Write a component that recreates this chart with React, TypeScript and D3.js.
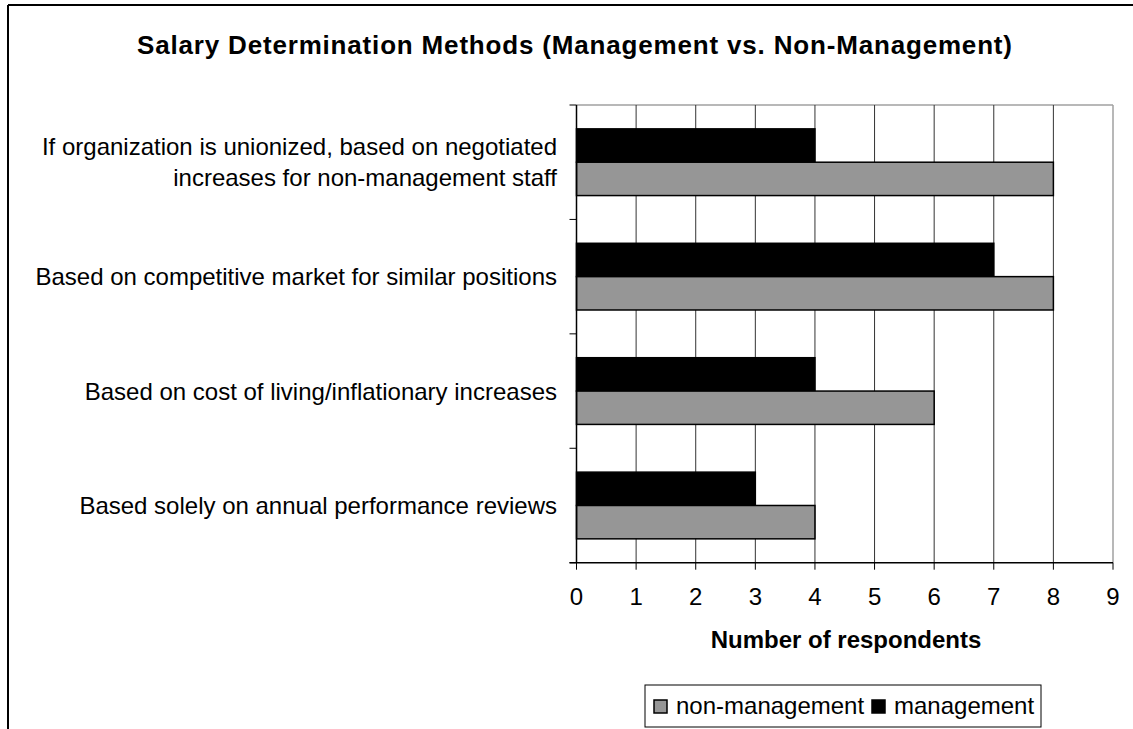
import * as d3 from 'd3'

const categories = [
  ['If organization is unionized, based on negotiated', 'increases for non-management staff'],
  ['Based on competitive market for similar positions'],
  ['Based on cost of living/inflationary increases'],
  ['Based solely on annual performance reviews'],
]
const seriesNames = ['management', 'non-management']
const management = [4, 7, 4, 3]
const nonManagement = [8, 8, 6, 4]
const xTicks = [0, 1, 2, 3, 4, 5, 6, 7, 8, 9]
const legendOrder = ['non-management', 'management']

const colors: Record<string, string> = {
  management: '#000000',
  'non-management': '#969696',
}

const W = 1133
const H = 729
const plot = { left: 576.5, right: 1113, top: 105, bottom: 562.7 }
const font = "'Liberation Sans', Arial, sans-serif"

export default function App() {
  const keys = categories.map((_, i) => String(i))
  const x = d3.scaleLinear().domain([0, 9]).range([plot.left, plot.right])
  const y = d3
    .scaleBand<string>()
    .domain(keys)
    .range([plot.top, plot.bottom])
    .paddingInner(0.417)
    .paddingOuter(0.2085)
  const sub = d3.scaleBand<string>().domain(seriesNames).range([0, y.bandwidth()])
  const step = y.step()
  const boundaries = d3.range(categories.length + 1).map(i => plot.top + i * step)

  const values: Record<string, number[]> = {
    management,
    'non-management': nonManagement,
  }

  return (
    <div style={{ position: 'absolute', left: 0, top: 0 }}>
      <svg width={W} height={H} style={{ display: 'block', background: '#fff' }} fontFamily={font}>
        {/* outer frame */}
        <line x1={8} y1={5} x2={W} y2={5} stroke="#000" strokeWidth={2} />
        <line x1={8} y1={5} x2={8} y2={H} stroke="#000" strokeWidth={2} />

        <text x={137} y={54} fontSize={26} fontWeight="bold" textLength={875} lengthAdjust="spacing">
          Salary Determination Methods (Management vs. Non-Management)
        </text>

        {/* plot border top/right */}
        <line x1={plot.left} y1={plot.top} x2={plot.right} y2={plot.top} stroke="#a0a0a0" strokeWidth={1.5} />
        <line x1={plot.right} y1={plot.top} x2={plot.right} y2={plot.bottom} stroke="#a0a0a0" strokeWidth={1.5} />

        {/* gridlines */}
        {xTicks.slice(1, -1).map(t => (
          <line key={t} x1={x(t)} x2={x(t)} y1={plot.top} y2={plot.bottom} stroke="#333" strokeWidth={1} />
        ))}

        {/* bars */}
        {keys.map((k, i) =>
          seriesNames.map(s => (
            <rect
              key={k + s}
              x={x(0)}
              y={(y(k) ?? 0) + (sub(s) ?? 0)}
              width={x(values[s][i]) - x(0)}
              height={sub.bandwidth()}
              fill={colors[s]}
              stroke="#000"
              strokeWidth={1.5}
            />
          ))
        )}

        {/* y axis */}
        <line x1={plot.left} x2={plot.left} y1={plot.top} y2={plot.bottom} stroke="#000" strokeWidth={1.5} />
        {boundaries.map((b, i) => (
          <line key={i} x1={plot.left - 7} x2={plot.left} y1={b} y2={b} stroke="#000" strokeWidth={1} />
        ))}

        {/* x axis */}
        <line x1={plot.left - 7} x2={plot.right} y1={plot.bottom} y2={plot.bottom} stroke="#000" strokeWidth={1.5} />
        {xTicks.map(t => (
          <g key={t}>
            <line x1={x(t)} x2={x(t)} y1={plot.bottom} y2={plot.bottom + 7} stroke="#000" strokeWidth={1} />
            <text x={x(t)} y={605} textAnchor="middle" fontSize={24}>
              {t}
            </text>
          </g>
        ))}

        <text x={846} y={648} textAnchor="middle" fontSize={24} fontWeight="bold">
          Number of respondents
        </text>

        {/* category labels */}
        {categories.map((lines, i) => {
          const c = (y(keys[i]) ?? 0) + y.bandwidth() / 2
          const gap = 31
          return lines.map((ln, j) => (
            <text
              key={i + '-' + j}
              x={557}
              y={c + (j - (lines.length - 1) / 2) * gap + 8.5}
              textAnchor="end"
              fontSize={24}
            >
              {ln}
            </text>
          ))
        })}

        {/* legend */}
        <rect x={645} y={685} width={396} height={42} fill="#fff" stroke="#000" strokeWidth={1} />
        {legendOrder.map((s, i) => {
          const lx = i === 0 ? 654 : 872
          return (
            <g key={s}>
              <rect x={lx} y={700} width={13} height={13} fill={colors[s]} stroke="#000" strokeWidth={1.5} />
              <text x={lx + 22} y={714} fontSize={24}>
                {s}
              </text>
            </g>
          )
        })}
      </svg>
    </div>
  )
}
